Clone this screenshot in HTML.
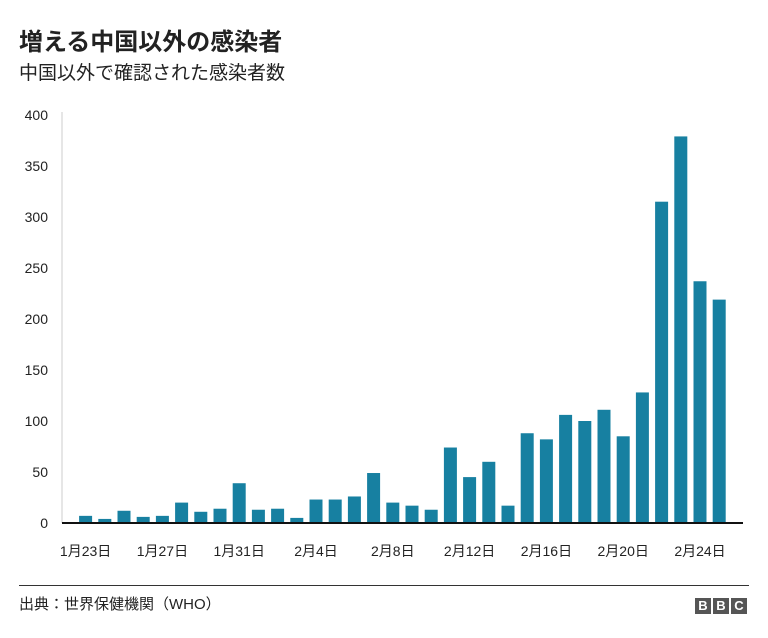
<!DOCTYPE html>
<html><head><meta charset="utf-8"><style>
body{margin:0;background:#fff;font-family:"Liberation Sans","Noto Sans CJK JP",sans-serif;}
#wrap{position:relative;width:768px;height:638px;overflow:hidden;}
</style></head><body>
<div id="wrap">
<div style="position:absolute;left:19px;top:22px;font-size:24px;font-weight:bold;color:#222;">増える中国以外の感染者</div>
<div style="position:absolute;left:19px;top:58px;font-size:19px;color:#222;">中国以外で確認された感染者数</div>
<svg id="chart" width="768" height="638" style="position:absolute;left:0;top:0"></svg>
<div style="position:absolute;left:19px;top:585px;width:730px;height:1px;background:#333;"></div>
<div style="position:absolute;left:19px;top:593px;font-size:15px;color:#222;">出典：世界保健機関（WHO）</div>
<div style="position:absolute;left:695px;top:598px;display:flex;gap:2px;">
<span style="display:inline-block;width:16px;height:16px;background:#555;color:#fff;font-weight:bold;font-size:13px;line-height:16px;text-align:center;">B</span><span style="display:inline-block;width:16px;height:16px;background:#555;color:#fff;font-weight:bold;font-size:13px;line-height:16px;text-align:center;">B</span><span style="display:inline-block;width:16px;height:16px;background:#555;color:#fff;font-weight:bold;font-size:13px;line-height:16px;text-align:center;">C</span>
</div>
</div>
<script>
const values=[7,4,12,6,7,20,11,14,39,13,14,5,23,23,26,49,20,17,13,74,45,60,17,88,82,106,100,111,85,128,315,379,237,219];
const dayLabels=["1月23日","","","","1月27日","","","","1月31日","","","","2月4日","","","","2月8日","","","","2月12日","","","","2月16日","","","","2月20日","","","","2月24日",""];
const yTicks=[0,50,100,150,200,250,300,350,400];
const svg=document.getElementById('chart');
const NS='http://www.w3.org/2000/svg';
const x0=76,step=19.2,bw=13,yBase=523,yTop=115,yMax=400;
const y=v=>yBase-(v/yMax)*(yBase-yTop);
const xc=i=>x0+step*i+step/2;
function mk(t,a){const e=document.createElementNS(NS,t);for(const k in a)e.setAttribute(k,a[k]);svg.appendChild(e);return e;}
const ya=mk('line',{x1:62,x2:62,y1:112,y2:523,stroke:'#ccc','stroke-width':1});


yTicks.forEach(t=>{const e=mk('text',{x:48,y:y(t)+5,'text-anchor':'end','font-size':14,fill:'#222','font-family':'Liberation Sans, sans-serif'});e.textContent=t;

});
values.forEach((v,i)=>{const r=mk('rect',{x:xc(i)-bw/2,y:y(v),width:bw,height:yBase-y(v),fill:'#1780a1'});


if(dayLabels[i]){const t=mk('text',{x:xc(i),y:556,'text-anchor':'middle','font-size':14,fill:'#222','font-family':'Liberation Sans, Noto Sans CJK JP, sans-serif'});t.textContent=dayLabels[i];

}});
const xa=mk('line',{x1:62,x2:743,y1:523,y2:523,stroke:'#111','stroke-width':2});


</script>
</body></html>
